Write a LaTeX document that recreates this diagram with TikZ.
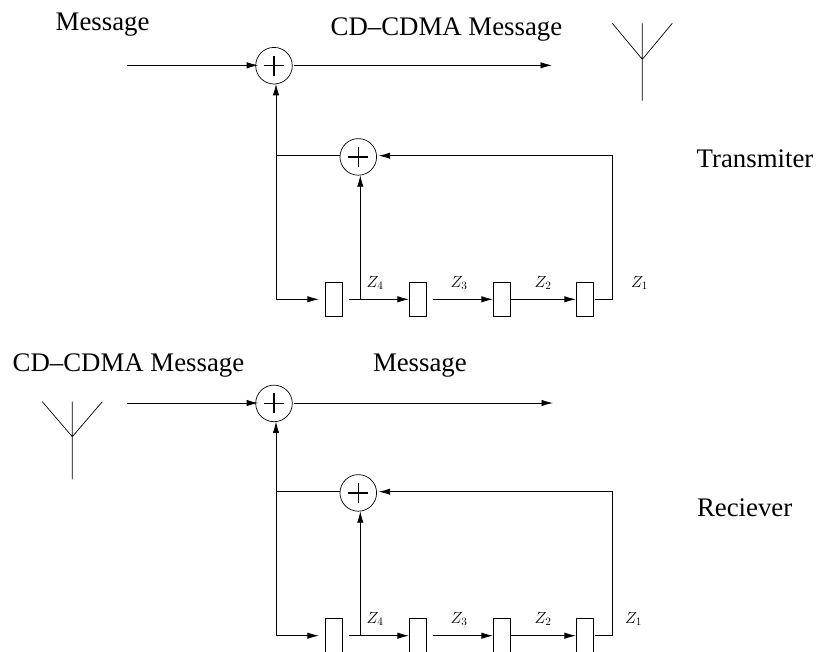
\documentclass[tikz,border=0pt]{standalone}
\usepackage{fontspec}
\setmainfont{Liberation Serif}
\usetikzlibrary{arrows.meta}
\tikzset{
  x=1pt,y=-1pt,
  wire/.style={line width=0.85pt,black},
  flow/.style={wire,-{Latex[length=11.5pt,width=6.4pt]}},
  adder/.style={circle,draw,line width=0.7pt,minimum size=36.6pt,inner sep=0pt,outer sep=0pt},
  reg/.style={rectangle,draw,line width=0.7pt,minimum width=17.4pt,minimum height=34pt,inner sep=0pt},
  lbl/.style={font=\fontsize{26.8pt}{30pt}\selectfont,inner sep=0pt,anchor=base west},
  zlbl/.style={font=\fontsize{14.4pt}{16pt}\selectfont,inner sep=0pt,anchor=center,transform shape,scale=1.12},
}
\newcommand{\plusmark}[1]{%
  \draw[line width=1.2pt] ([xshift=-10pt]#1.center) -- ([xshift=10pt]#1.center)
    ([yshift=-10pt]#1.center) -- ([yshift=10pt]#1.center);}
\newcommand{\lfsr}[7]{%
  % #1 prefix, #2 in-line y, #3 out x, #4 adder 2 line y, #5 register-line y, #6 z1 x, #7 in-line start x
  \node[adder] (#1a) at (274,#2+0.4) {};
  \node[adder] (#1b) at (358.3,#4+1.2) {};
  \plusmark{#1a}\plusmark{#1b}
  \node[reg] (#1r) at (334,#5) {};
  \node[reg] (#1s) at (418,#5) {};
  \node[reg] (#1t) at (502,#5) {};
  \node[reg] (#1u) at (585,#5) {};
  \coordinate (#1in) at (#7,#2);
  \coordinate (#1out) at (#3,#2);
  \coordinate (#1bl) at (276,#5);
  \coordinate (#1top) at (276,#4);
  \coordinate (#1jn) at (360.3,#5);
  \coordinate (#1rr) at (612.7,#5);
  \coordinate (#1rt) at (612.7,#4);
  \draw[flow] (#1in) -- ([xshift=2.5pt]#1a.west |- #1in);
  \draw[flow] ([xshift=2pt]#1a.east |- #1in) -- (#1out);
  \draw[flow] (#1bl) -- ([xshift=-6pt]#1r.west);
  \draw[flow] (#1bl) -- (276,#2+18.5);
  \draw[wire] (#1top) -- (#1b.west |- #1top);
  \draw[flow] (#1jn) -- (360.3,#4+19.5);
  \draw[flow] ([xshift=6pt]#1r.east) -- (#1s.west);
  \draw[flow] ([xshift=6pt]#1s.east) -- (#1t.west);
  \draw[flow] (#1t.east) -- (#1u.west);
  \draw[wire] (#1u.east) ++(1pt,0) -- (#1rr) -- (#1rt);
  \draw[flow] (#1rt) -- ([xshift=2pt]#1b.east |- #1rt);
  \node[zlbl] at (375,#5-16.5) {$Z_4$};
  \node[zlbl] at (459,#5-16.5) {$Z_3$};
  \node[zlbl] at (543,#5-16.5) {$Z_2$};
  \node[zlbl] at (#6,#5-16.5) {$Z_1$};
}
\begin{document}
\begin{tikzpicture}
\useasboundingbox (0,0) rectangle (817,651);
\clip (0,0) rectangle (817,651);
\lfsr{p}{65.3}{552}{155.7}{299.3}{639.5}{127}
\lfsr{q}{403}{553}{491.7}{635.7}{633.5}{127}
\node[lbl] (m1) at (55.5,30) {Message};
\node[lbl] (c1) at (330.5,35) {CD–CDMA Message};
\node[lbl] (tx) at (696.5,167) {Transmiter};
\node[lbl] (c2) at (12.5,371.7) {CD–CDMA Message};
\node[lbl] (m2) at (372.8,371.7) {Message};
\node[lbl] (rx) at (696.8,516) {Reciever};
\coordinate (ant1) at (642.3,59.3);
\draw[wire,line width=0.7pt] (612.3,23.3) -- (ant1) -- (672.3,23.3) (642.3,23.3) -- (642.3,100.7);
\coordinate (ant2) at (72.3,436.7);
\draw[wire,line width=0.7pt] (42.3,401.7) -- (ant2) -- (102.3,401.7) (72.3,401.7) -- (72.3,479.3);
\end{tikzpicture}
\end{document}
